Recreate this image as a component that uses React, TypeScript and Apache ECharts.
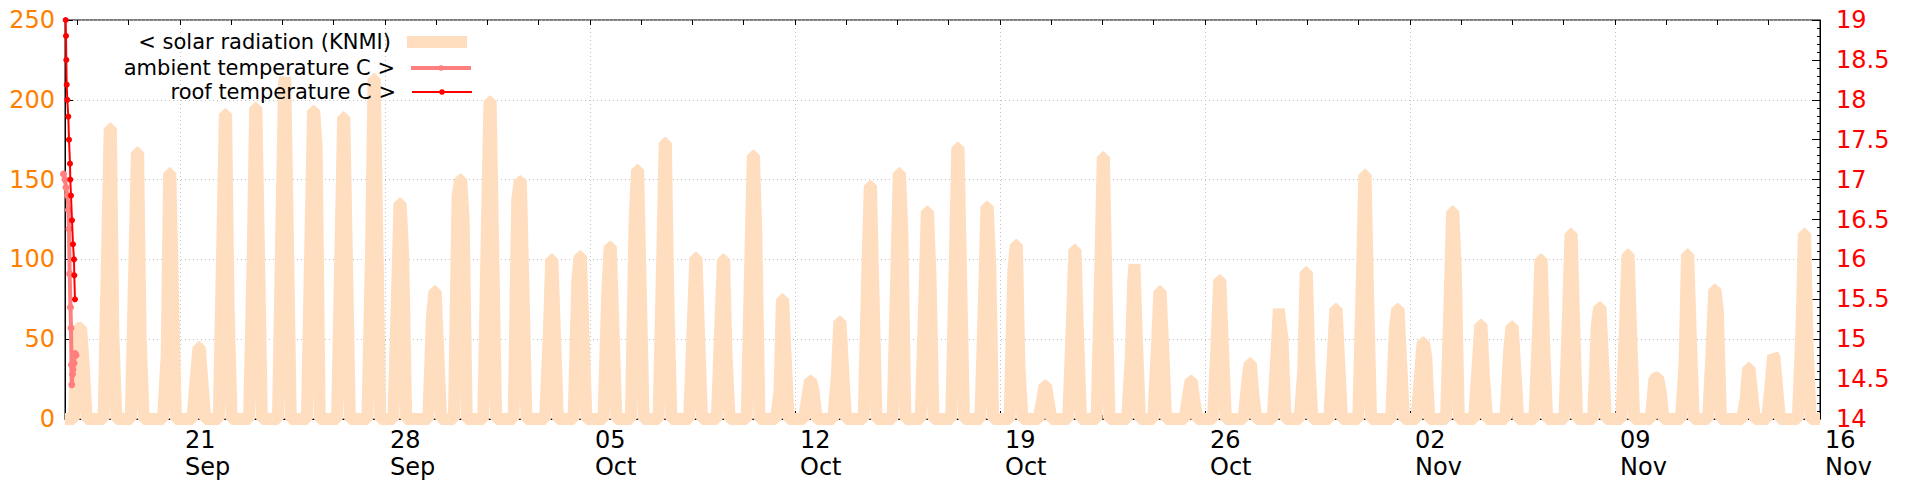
import React, { useEffect, useRef } from 'react';
import * as echarts from 'echarts';

// x values are days since 21 Sep 00:00
const xMin = -3.926;
const xMax = 56;
const xTickValues = [0, 7, 14, 21, 28, 35, 42, 49, 56];
const xTickLabels = ['21\nSep', '28\nSep', '05\nOct', '12\nOct', '19\nOct', '26\nOct', '02\nNov', '09\nNov', '16\nNov'];

// solar radiation (KNMI), one entry per day starting 17 Sep
const peakHour = [14.5, 14.9, 13.2, 15.6, 15.7, 13.3, 14.1, 13.8, 13.5, 14.2, 15.1, 12.4, 17.0, 14.0, 14.1, 14.9, 16.7, 16.1, 16.6, 15.0, 13.7, 14.8, 13.4, 13.9, 13.8, 12.7, 12.8, 13.8, 13.5, 12.5, 13.5, 13.4, 13.4, 13.1, 13.4, 12.7, 13.7, 11.1, 12.7, 12.1, 13.1, 13.0, 11.0, 11.3, 11.1, 14.1, 10.8, 11.0, 10.1, 11.7, 11.4, 12.0, 11.6, 10.7, 10.8, 11.5, 9.8, 13.6, 10.1, 11.3];
const peakA = [57, 182, 167, 154, 45, 191, 195, 211, 193, 189, 213, 135, 80, 150, 199, 149, 100, 102, 108, 156, 173, 101, 100, 165, 75, 24, 61, 146, 154, 130, 170, 133, 109, 21, 106, 164, 87, 80, 24, 87, 35, 69, 92, 69, 153, 69, 48, 130, 59, 58, 100, 116, 70, 103, 26, 103, 81, 32, 40, 116];
const peakB = [57, 182, 167, 154, 45, 191, 195, 214, 193, 189, 213, 135, 80, 150, 199, 149, 100, 102, 108, 156, 173, 101, 100, 165, 75, 24, 61, 146, 154, 130, 170, 133, 109, 21, 106, 164, 97, 80, 24, 87, 35, 62, 92, 69, 153, 69, 48, 130, 59, 58, 100, 116, 70, 103, 26, 103, 81, 32, 39, 116];
const morning = [57, 110, 100, 40, 28, 115, 102, 130, 115, 113, 106, 80, 64, 140, 123, 138, 52, 87, 78, 122, 100, 60, 60, 100, 17, 14, 27, 94, 90, 75, 100, 75, 93, 12, 60, 95, 39, 45, 15, 50, 23, 40, 30, 40, 90, 57, 28, 75, 35, 43, 55, 65, 59, 58, 25, 34, 45, 13, 22, 56];
const afternoon = [35, 53, 53, 85, 25, 72, 110, 120, 171, 105, 120, 103, 45, 125, 110, 85, 55, 55, 60, 85, 75, 55, 40, 113, 40, 18, 33, 80, 117, 91, 95, 100, 34, 12, 55, 85, 50, 47.5, 12, 47, 15.5, 51, 36, 38, 80, 38, 39, 95, 27, 32, 48, 60, 38, 55, 18, 55, 68, 18, 22, 47.5];

// temperatures: hours since 17 Sep 00:00
const roofHours = [2.34, 2.59, 2.84, 3.16, 3.65, 4.47, 5.05, 5.87, 6.11, 6.69, 7.5, 8.33, 9.14, 9.39, 9.96];
const roofTemps = [19.0, 18.8, 18.5, 18.19, 18.0, 17.79, 17.5, 17.2, 17.0, 16.8, 16.49, 16.19, 16.0, 15.8, 15.5];
const ambHours = [0.54, 1.77, 2.59, 3.82, 4.64, 5.05, 5.62, 6.28, 6.69, 7.1, 7.34, 7.9, 8.3, 9.1, 9.96, 10.8];
const ambTemps = [17.07, 17.0, 16.9, 16.8, 16.62, 16.38, 15.82, 15.4, 15.14, 14.68, 14.43, 14.56, 14.62, 14.7, 14.82, 14.8];

const seriesNames = ['< solar radiation (KNMI)', 'ambient temperature C >', 'roof temperature C >'];

const SOLAR = '#FFDEC0';
const AMB = '#FF7F7F';
const ROOF = '#FF0000';
const FONT = 'DejaVu Sans';

function hoursToX(h: number) {
  return h / 24 - 4;
}

function buildSolar() {
  const pts: number[][] = [[xMin, 0]];
  for (let d = 0; d < peakHour.length; d++) {
    const base = d - 4;
    const hc = peakHour[d];
    pts.push([base + (hc - 5.5) / 24, 0]);
    pts.push([base + (hc - 2.5) / 24, morning[d]]);
    pts.push([base + (hc - 0.5) / 24, peakA[d]]);
    pts.push([base + (hc + 0.5) / 24, peakB[d]]);
    pts.push([base + (hc + 2.5) / 24, afternoon[d]]);
    pts.push([base + (hc + 5) / 24, 0]);
  }
  pts.push([xMax, 0]);
  return pts;
}

const minorVals: number[] = [];
for (let w = -1; w < 8; w++) {
  for (const f of [1.75, 3.5, 5.25]) {
    const v = w * 7 + f;
    if (v > xMin && v < xMax) minorVals.push(v);
  }
}
const allVals = [...xTickValues, ...minorVals].sort((a, b) => a - b);

const legendTops = [30, 56, 80];

export default function App() {
  const ref = useRef<HTMLDivElement>(null);
  useEffect(() => {
    if (!ref.current) return;
    const chart = echarts.init(ref.current, undefined, { renderer: 'svg' });
    const grid = '#c0c0c0';
    const legendBase = {
      orient: 'vertical',
      align: 'right',
      right: 1447,
      padding: 0,
      itemWidth: 60,
      itemHeight: 7,
      itemGap: 0,
      selectedMode: false,
      lineStyle: { width: 'inherit' },
      textStyle: { fontFamily: FONT, fontSize: 21, color: '#000', lineHeight: 24, padding: [0, 11, 0, 0] },
    };
    chart.setOption({
      animation: false,
      grid: { left: 65, right: 100, top: 20, bottom: 57, show: true, borderColor: '#000', borderWidth: 1 },
      legend: seriesNames.map((n, i) => ({ ...legendBase, top: legendTops[i], data: [n] })),
      xAxis: [
        {
          type: 'value', min: xMin, max: xMax, position: 'bottom',
          axisLine: { show: true, onZero: false, lineStyle: { color: '#000', width: 1 } },
          axisTick: { show: true, inside: true, length: 8, customValues: xTickValues, lineStyle: { color: '#000' } },
          axisLabel: {
            customValues: xTickValues,
            formatter: (v: number) => {
              const i = xTickValues.findIndex((t) => Math.abs(t - v) < 1e-6);
              return i >= 0 ? xTickLabels[i] : '';
            },
            align: 'left', padding: [0, 0, 0, 5], margin: 7,
            fontFamily: FONT, fontSize: 24, lineHeight: 27, color: '#000',
          },
          splitLine: { show: true, lineStyle: { color: grid, type: [1, 3], width: 1 } },
        },
        {
          type: 'value', min: xMin, max: xMax, position: 'bottom',
          axisLine: { show: false, onZero: false },
          axisTick: { show: true, inside: true, length: 4, customValues: minorVals, lineStyle: { color: '#000' } },
          axisLabel: { show: false },
          splitLine: { show: false },
        },
        {
          type: 'value', min: xMin, max: xMax, position: 'top',
          axisLine: { show: false, onZero: false },
          axisTick: { show: true, inside: true, length: 5, customValues: allVals, lineStyle: { color: '#000' } },
          axisLabel: { show: false },
          splitLine: { show: false },
        },
      ],
      yAxis: [
        {
          type: 'value', min: 0, max: 250, interval: 50, position: 'left',
          axisLine: { show: true, onZero: false, lineStyle: { color: '#000' } },
          axisTick: { show: true, inside: true, length: 8, lineStyle: { color: '#000' } },
          axisLabel: { color: '#FF8000', fontFamily: FONT, fontSize: 24, margin: 10 },
          splitLine: { show: true, lineStyle: { color: grid, type: [1, 3], width: 1 } },
        },
        {
          type: 'value', min: 14, max: 19, interval: 0.5, position: 'right',
          axisLine: { show: true, onZero: false, lineStyle: { color: '#000' } },
          axisTick: { show: true, inside: true, length: 8, lineStyle: { color: '#000' } },
          minorTick: { show: true, splitNumber: 5, length: 3, lineStyle: { color: '#000' } },
          axisLabel: { color: '#FF0000', fontFamily: FONT, fontSize: 24, margin: 16 },
          splitLine: { show: false },
        },
      ],
      series: [
        {
          name: seriesNames[0], type: 'line', xAxisIndex: 0, yAxisIndex: 0,
          data: buildSolar(), symbol: 'none', clip: false, silent: true, z: 1,
          lineStyle: { color: SOLAR, width: 12, join: 'bevel', cap: 'butt' },
          itemStyle: { color: SOLAR },
        },
        {
          name: seriesNames[1], type: 'line', xAxisIndex: 0, yAxisIndex: 1,
          data: ambHours.map((h, i) => [hoursToX(h), ambTemps[i]]),
          symbol: 'circle', symbolSize: 7, clip: false, silent: true, z: 3,
          lineStyle: { color: AMB, width: 4 }, itemStyle: { color: AMB },
        },
        {
          name: seriesNames[2], type: 'line', xAxisIndex: 0, yAxisIndex: 1,
          data: roofHours.map((h, i) => [hoursToX(h), roofTemps[i]]),
          symbol: 'circle', symbolSize: 6, clip: false, silent: true, z: 4,
          lineStyle: { color: ROOF, width: 2 }, itemStyle: { color: ROOF },
        },
      ],
    });
    return () => chart.dispose();
  }, []);
  return <div ref={ref} style={{ position: 'fixed', left: 0, top: 0, width: 1920, height: 480, background: '#fff' }} />;
}
